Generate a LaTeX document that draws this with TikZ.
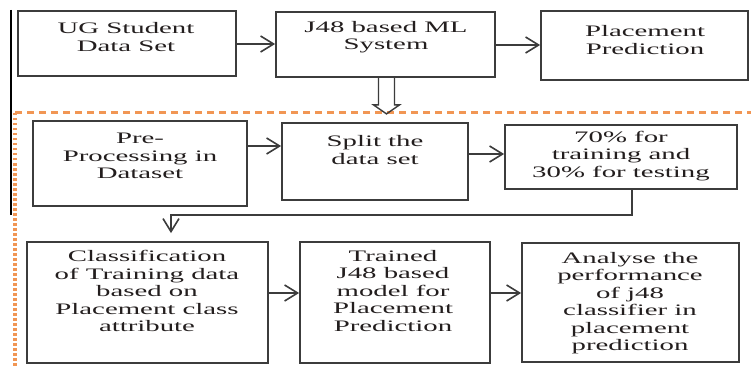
\documentclass[tikz,border=0pt]{standalone}
\usepackage{fontspec}
\setmainfont{Liberation Serif}[FakeStretch=1.8]
\usetikzlibrary{arrows.meta,calc}
\definecolor{dashor}{RGB}{241,150,84}
\definecolor{boxline}{RGB}{60,60,60}
\definecolor{txt}{RGB}{35,30,30}
\begin{document}
\begin{tikzpicture}[x=1pt,y=-1pt,
  box/.style={draw=boxline,line width=1.8pt,minimum width=#1,inner sep=0pt},
  tx/.style={align=center,text=txt,font=\fontsize{16}{17.5}\selectfont,inner sep=0pt},
  arr/.style={draw=boxline,line width=1.6pt,-{Straight Barb[length=13pt,width=16pt,line width=1.6pt]}},
  orh/.style={draw=dashor,line width=3pt,dash pattern=on 7pt off 5pt},
  orv/.style={draw=dashor,line width=4.5pt,dash pattern=on 2.5pt off 2.5pt}]
\useasboundingbox (0,0) rectangle (751,366);
\fill[white] (0,0) rectangle (751,366);
% boxes
\node[box=218pt,minimum height=65pt] (b1) at (127,43.5) {};
\node[box=219pt,minimum height=65pt] (b2) at (385.5,44.5) {};
\node[box=207pt,minimum height=69pt] (b3) at (644.5,45.5) {};
\node[box=214pt,minimum height=85pt] (b4) at (140,163.5) {};
\node[box=186pt,minimum height=77pt] (b5) at (375,161.5) {};
\node[box=232pt,minimum height=64pt] (b6) at (621,157) {};
\node[box=241pt,minimum height=121pt] (b7) at (147.5,302.5) {};
\node[box=190pt,minimum height=121pt] (b8) at (395,302.5) {};
\node[box=217pt,minimum height=119pt] (b9) at (630.5,302.5) {};
% texts
\node[tx] (t1) at (126,37) {UG Student\\Data Set};
\node[tx] (t2) at (386,37) {J48 based ML\\System};
\node[tx] (t3) at (645,40) {Placement\\Prediction};
\node[tx] (t4) at (140,156) {Pre-\\Processing in\\Dataset};
\node[tx] (t5) at (375,150) {Split the\\data set};
\node[tx] (t6) at (621,156) {70\% for\\training and\\30\% for testing};
\node[tx] (t7) at (147,291) {Classification\\of Training data\\based on\\Placement class\\attribute};
\node[tx] (t8) at (393,291) {Trained\\J48 based\\model for\\Placement\\Prediction};
\node[tx] (t9) at (630,303) {Analyse the\\performance\\of j48\\classifier in\\placement\\prediction};
% side lines
\coordinate (ltop) at (11,10);
\coordinate (lbot) at (11,215);
\draw[black,line width=2pt] (ltop) -- (lbot);
\coordinate (oc) at (15,113);
\coordinate (or) at (751,113);
\coordinate (ob) at (15,366);
\draw[orh] (oc) -- (or);
\draw[orv] (oc) -- (ob);
% arrows
\draw[arr] (b1.east |- 0,44) -- (b2.west |- 0,44);
\draw[arr] (b2.east |- 0,45) -- (b3.west |- 0,45);
\draw[arr] (b4.east |- 0,146) -- (b5.west |- 0,146);
\draw[arr] (b5.east |- 0,154) -- (b6.west |- 0,154);
\draw[arr] (b7.east |- 0,293) -- (b8.west |- 0,293);
\draw[arr] (b8.east |- 0,293) -- (b9.west |- 0,293);
\draw[arr,shorten >=8pt] (b6.south -| 632,0) -- (632,215) -- (171,215) -- (b7.north -| 171,0);
% hollow arrow
\draw[boxline,line width=1.4pt,line join=miter]
  ($(b2.south)+(-7,0)$) -- ++(0,27) -- ++(-5,0) -- ($(b2.south)+(1,36)$)
  -- ($(b2.south)+(14,27)$) -- ++(-5,0) -- ($(b2.south)+(9,0)$);
\end{tikzpicture}
\end{document}
